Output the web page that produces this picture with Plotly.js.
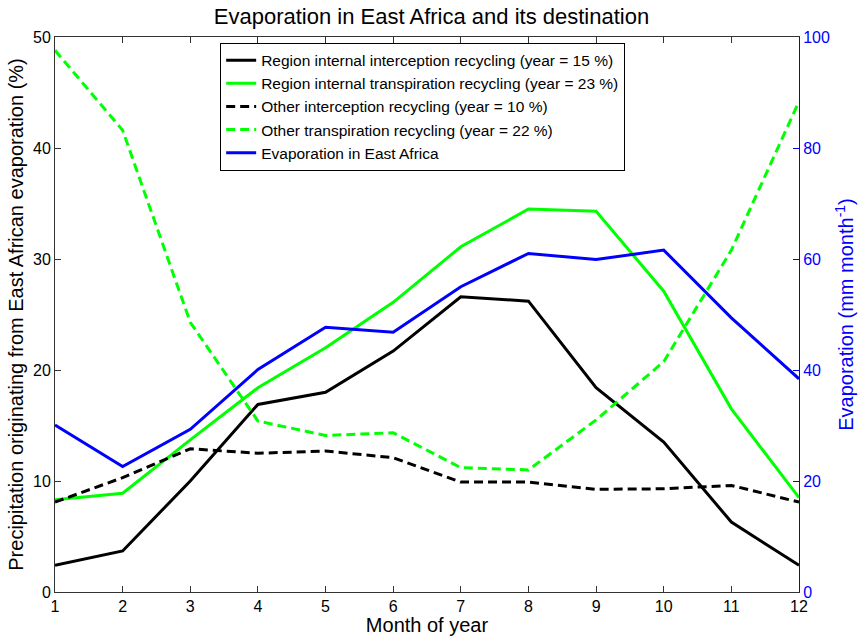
<!DOCTYPE html>
<html>
<head>
<meta charset="utf-8">
<script src="https://cdn.plot.ly/plotly-3.0.1.min.js"></script>
<style>
  html, body { margin: 0; padding: 0; background: #fff; }
  #chart { width: 863px; height: 636px; }
</style>
</head>
<body>
<div id="chart"></div>
<script>
// Months of the year
const months = [1, 2, 3, 4, 5, 6, 7, 8, 9, 10, 11, 12];

// Share of East African evaporation that returns as precipitation (%)
const internalInterception = [2.4, 3.7, 10.0, 16.9, 18.0, 21.7, 26.6, 26.2, 18.4, 13.5, 6.3, 2.4];
const internalTranspiration = [8.3, 8.9, 13.7, 18.4, 22.0, 26.1, 31.1, 34.5, 34.3, 27.1, 16.5, 8.5];
const otherInterception = [8.1, 10.3, 12.9, 12.5, 12.7, 12.1, 9.9, 9.9, 9.25, 9.3, 9.6, 8.1];
const otherTranspiration = [48.8, 41.6, 24.3, 15.4, 14.1, 14.35, 11.2, 11.0, 15.5, 20.75, 30.8, 44.2];

// Monthly evaporation in East Africa (mm month^-1)
const evaporation = [30.1, 22.6, 29.3, 40.1, 47.7, 46.8, 55.0, 61.0, 59.9, 61.6, 49.4, 38.4];

// Legend labels
const seriesNames = [
  'Region internal interception recycling (year = 15 %)',
  'Region internal transpiration recycling (year = 23 %)',
  'Other interception recycling (year = 10 %)',
  'Other transpiration recycling (year = 22 %)',
  'Evaporation in East Africa'
];

const FONT = 'Liberation Sans, Arial, sans-serif';
const GREEN = '#00ff00';
const BLUE = '#0000ff';
const DASH = '9px,5px';

const traces = [
  { x: months, y: internalInterception, name: seriesNames[0], mode: 'lines',
    line: { color: '#000000', width: 3 } },
  { x: months, y: internalTranspiration, name: seriesNames[1], mode: 'lines',
    line: { color: GREEN, width: 3 } },
  { x: months, y: otherInterception, name: seriesNames[2], mode: 'lines',
    line: { color: '#000000', width: 3, dash: DASH } },
  { x: months, y: otherTranspiration, name: seriesNames[3], mode: 'lines',
    line: { color: GREEN, width: 3, dash: DASH } },
  { x: months, y: evaporation, name: seriesNames[4], mode: 'lines', yaxis: 'y2',
    line: { color: BLUE, width: 3 } }
];

const layout = {
  width: 863,
  height: 636,
  margin: { l: 55, r: 64, t: 37, b: 44 },
  paper_bgcolor: '#ffffff',
  plot_bgcolor: '#ffffff',
  font: { family: FONT, size: 16, color: '#000000' },
  title: {
    text: 'Evaporation in East Africa and its destination',
    font: { family: FONT, size: 22, color: '#000000' },
    x: 0.5, xanchor: 'center', y: 0.987, yanchor: 'top'
  },
  showlegend: true,
  legend: {
    x: 0.222, y: 0.99, xanchor: 'left', yanchor: 'top',
    bgcolor: '#ffffff', bordercolor: '#000000', borderwidth: 1,
    font: { family: FONT, size: 15.5, color: '#000000' },
    itemwidth: 30,
    tracegroupgap: 0
  },
  xaxis: {
    range: [1, 12],
    tickvals: months,
    ticktext: months.map(String),
    ticks: 'inside', ticklen: 6, tickcolor: '#333333',
    showline: true, linecolor: '#333333', linewidth: 1, mirror: 'ticks',
    showgrid: false, zeroline: false,
    tickfont: { family: FONT, size: 16, color: '#000000' },
    title: { text: 'Month of year', font: { family: FONT, size: 20, color: '#000000' }, standoff: 2 }
  },
  yaxis: {
    range: [0, 50],
    tickvals: [0, 10, 20, 30, 40, 50],
    ticks: 'inside', ticklen: 6, tickcolor: '#333333',
    showline: true, linecolor: '#333333', linewidth: 1,
    showgrid: false, zeroline: false,
    tickfont: { family: FONT, size: 16, color: '#000000' },
    title: { text: 'Precipitation originating from East African evaporation (%)',
             font: { family: FONT, size: 20, color: '#000000' }, standoff: 4 }
  },
  yaxis2: {
    range: [0, 100],
    tickvals: [0, 20, 40, 60, 80, 100],
    overlaying: 'y', side: 'right',
    ticks: 'inside', ticklen: 6, tickcolor: BLUE,
    showline: true, linecolor: BLUE, linewidth: 1,
    showgrid: false, zeroline: false,
    tickfont: { family: FONT, size: 16, color: BLUE },
    title: { text: 'Evaporation (mm month<sup>-1</sup>)',
             font: { family: FONT, size: 20, color: BLUE }, standoff: 10 }
  }
};

Plotly.newPlot('chart', traces, layout, { displayModeBar: false, staticPlot: true });
</script>
</body>
</html>
